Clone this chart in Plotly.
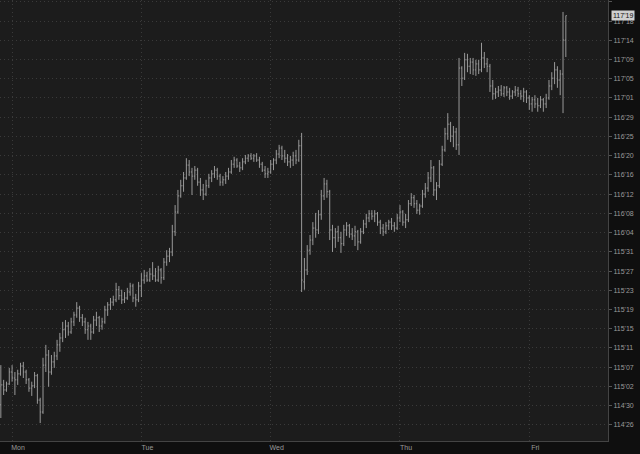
import plotly.graph_objects as go

# Prices are stored in 32nds above 114'00 (bond-futures quoting); price = 114 + v/32
opens32 = [30.4, 34.7, 33.6, 34.9, 37.5, 36.2, 35.8, 37.1, 38.8, 37.5,
           35.8, 34.0, 34.5, 36.7, 31.4, 28.8, 39.0, 41.2, 37.5, 39.7,
           41.0, 43.4, 44.9, 46.7, 47.5, 46.2, 48.4, 49.9, 51.4, 49.3,
           48.4, 46.7, 47.5, 46.2, 48.8, 49.3, 47.5, 48.4, 51.0, 52.1,
           52.7, 53.2, 55.4, 54.1, 53.2, 53.6, 54.9, 56.2, 53.6, 53.2,
           56.2, 57.5, 58.4, 57.5, 58.8, 58.4, 57.5, 59.7, 58.0, 61.4,
           62.7, 63.6, 68.0, 72.3, 75.8, 78.0, 79.7, 82.5, 81.0, 80.1,
           81.4, 78.8, 77.1, 76.2, 78.0, 79.7, 80.6, 81.4, 80.1, 78.8,
           79.3, 80.1, 81.0, 82.7, 83.6, 82.3, 81.9, 83.2, 84.0, 84.5,
           84.0, 84.5, 83.6, 82.7, 81.4, 80.6, 81.0, 82.7, 83.6, 84.9,
           86.2, 84.5, 84.0, 83.2, 83.6, 84.5, 83.6, 86.7, 57.1, 59.7,
           64.0, 66.2, 68.8, 68.4, 71.7, 75.8, 78.4, 76.7, 68.4, 66.7,
           68.0, 66.7, 65.4, 68.4, 69.3, 67.5, 67.1, 68.0, 65.8, 68.0,
           69.7, 71.0, 71.9, 71.4, 71.9, 70.1, 68.8, 68.0, 69.3, 70.1,
           69.3, 68.8, 71.0, 72.3, 70.1, 70.6, 74.1, 75.4, 74.1, 72.7,
           73.6, 76.2, 77.5, 79.7, 81.9, 77.1, 78.0, 82.7, 85.8, 89.3,
           91.4, 88.8, 89.7, 86.9, 103.6, 101.4, 105.4, 104.0, 104.9, 103.2,
           104.5, 103.2, 105.8, 104.5, 104.0, 99.7, 98.0, 98.4, 98.8, 98.0,
           99.3, 98.4, 97.5, 98.4, 98.8, 98.0, 97.5, 98.4, 97.1, 95.8,
           96.7, 95.8, 95.4, 96.7, 95.8, 97.1, 99.7, 101.4, 103.2, 101.0,
           102.3, 109.7]
highs32 = [39.0, 35.8, 35.4, 38.4, 39.0, 37.5, 38.0, 39.5, 39.7, 38.0,
           36.2, 35.4, 37.5, 37.1, 31.9, 40.6, 43.4, 42.3, 41.2, 41.9,
           44.5, 46.0, 48.4, 48.8, 48.4, 49.3, 50.6, 52.7, 51.9, 50.1,
           49.3, 48.4, 48.0, 49.7, 50.6, 49.7, 49.3, 51.9, 52.7, 53.6,
           54.1, 56.9, 56.2, 55.4, 54.9, 55.8, 56.9, 56.7, 54.5, 57.1,
           59.0, 59.7, 59.3, 60.1, 61.4, 60.1, 60.6, 60.1, 62.3, 64.0,
           64.5, 69.5, 73.8, 77.1, 79.3, 81.0, 84.0, 83.6, 81.9, 82.3,
           81.9, 79.7, 78.4, 79.3, 80.6, 81.4, 82.3, 81.9, 80.6, 80.1,
           81.0, 81.9, 83.6, 84.3, 84.0, 83.2, 84.0, 84.7, 84.9, 85.1,
           84.9, 85.1, 84.3, 83.2, 82.3, 81.9, 83.6, 84.0, 85.8, 86.9,
           86.7, 85.8, 84.9, 84.5, 85.4, 85.8, 88.0, 89.5, 62.3, 65.1,
           67.3, 70.1, 72.1, 72.7, 77.1, 79.7, 79.3, 77.1, 69.5, 68.8,
           69.3, 68.0, 69.5, 70.1, 69.7, 68.8, 69.3, 68.4, 68.8, 70.6,
           71.9, 72.7, 72.7, 72.7, 72.3, 70.6, 69.7, 70.1, 70.6, 71.0,
           70.1, 71.9, 73.8, 72.7, 71.9, 74.9, 76.4, 76.0, 74.9, 74.1,
           77.1, 78.6, 81.0, 83.6, 82.3, 78.8, 83.6, 86.7, 90.6, 93.8,
           91.9, 91.0, 90.6, 105.8, 104.0, 106.9, 106.7, 105.8, 105.8, 105.4,
           105.4, 109.1, 107.1, 105.8, 104.5, 101.0, 99.3, 99.7, 99.9, 99.7,
           99.7, 99.3, 98.8, 99.7, 99.5, 98.8, 99.3, 98.8, 97.7, 97.3,
           97.7, 97.1, 97.5, 97.1, 98.0, 101.0, 102.7, 104.9, 104.0, 103.2,
           115.8, 115.0]
lows32 = [27.5, 32.5, 33.2, 34.7, 35.4, 32.5, 34.7, 36.7, 36.2, 34.9,
          33.2, 32.3, 34.0, 30.6, 26.4, 28.4, 37.5, 34.3, 36.9, 38.4,
          40.1, 41.9, 44.0, 44.9, 45.4, 45.8, 47.5, 49.3, 48.4, 47.5,
          45.8, 44.5, 44.5, 45.8, 47.5, 46.2, 46.7, 48.0, 49.7, 51.0,
          51.9, 52.7, 53.2, 52.3, 52.5, 53.2, 54.1, 52.7, 51.7, 52.7,
          53.8, 56.7, 57.1, 57.1, 57.5, 57.1, 57.1, 56.7, 57.5, 60.6,
          61.4, 62.7, 67.1, 71.9, 75.4, 76.7, 79.3, 80.1, 76.0, 79.3,
          78.0, 75.8, 74.9, 75.8, 77.5, 78.8, 79.7, 79.3, 78.0, 78.0,
          78.4, 79.3, 80.6, 81.9, 81.9, 81.0, 81.4, 82.7, 83.2, 83.6,
          83.2, 83.2, 81.9, 81.0, 79.7, 79.7, 80.6, 81.4, 82.7, 84.0,
          83.6, 83.0, 82.3, 81.9, 82.3, 82.7, 83.2, 54.9, 55.4, 58.6,
          63.0, 65.1, 66.7, 67.5, 70.6, 74.9, 75.4, 66.2, 63.6, 64.5,
          65.8, 63.4, 64.9, 67.1, 66.7, 66.2, 64.9, 64.0, 65.4, 67.5,
          68.8, 70.1, 70.6, 70.1, 69.3, 67.5, 67.1, 67.5, 68.4, 68.4,
          68.0, 68.4, 70.1, 69.3, 68.8, 70.1, 73.6, 73.2, 71.9, 71.7,
          73.2, 75.4, 76.7, 78.8, 75.8, 74.9, 77.5, 82.3, 85.4, 88.0,
          87.5, 86.4, 85.8, 84.7, 99.7, 101.0, 102.7, 102.3, 102.1, 101.9,
          102.3, 102.7, 103.6, 102.7, 98.4, 96.7, 96.9, 97.3, 97.5, 97.3,
          97.5, 96.7, 96.9, 97.5, 97.3, 96.7, 96.2, 96.0, 94.5, 94.1,
          94.9, 94.1, 94.9, 94.1, 94.9, 96.7, 98.8, 100.1, 99.3, 97.7,
          93.8, 106.0]
closes32 = [34.7, 33.6, 34.9, 37.5, 36.2, 35.8, 37.1, 38.8, 37.5, 35.8,
            34.0, 34.5, 36.7, 31.4, 28.8, 39.0, 41.2, 37.5, 39.7, 41.0,
            43.4, 44.9, 46.7, 47.5, 46.2, 48.4, 49.9, 51.4, 49.3, 48.4,
            46.7, 47.5, 46.2, 48.8, 49.3, 47.5, 48.4, 51.0, 52.1, 52.7,
            53.2, 55.4, 54.1, 53.2, 53.6, 54.9, 56.2, 53.6, 53.2, 56.2,
            57.5, 58.4, 57.5, 58.8, 58.4, 57.5, 59.7, 58.0, 61.4, 62.7,
            63.6, 68.0, 72.3, 75.8, 78.0, 79.7, 82.5, 81.0, 80.1, 81.4,
            78.8, 77.1, 76.2, 78.0, 79.7, 80.6, 81.4, 80.1, 78.8, 79.3,
            80.1, 81.0, 82.7, 83.6, 82.3, 81.9, 83.2, 84.0, 84.5, 84.0,
            84.5, 83.6, 82.7, 81.4, 80.6, 81.0, 82.7, 83.6, 84.9, 86.2,
            84.5, 84.0, 83.2, 83.6, 84.5, 83.6, 86.7, 57.5, 59.7, 64.0,
            66.2, 68.8, 68.4, 71.7, 75.8, 78.4, 76.7, 68.4, 66.7, 68.0,
            66.7, 65.4, 68.4, 69.3, 67.5, 67.1, 68.0, 65.8, 68.0, 69.7,
            71.0, 71.9, 71.4, 71.9, 70.1, 68.8, 68.0, 69.3, 70.1, 69.3,
            68.8, 71.0, 72.3, 70.1, 70.6, 74.1, 75.4, 74.1, 72.7, 73.6,
            76.2, 77.5, 79.7, 81.9, 77.1, 78.0, 82.7, 85.8, 89.3, 91.4,
            88.8, 89.7, 86.9, 103.6, 101.4, 105.4, 104.0, 104.9, 103.2, 104.5,
            103.2, 105.8, 104.5, 104.0, 99.7, 98.0, 98.4, 98.8, 98.0, 99.3,
            98.4, 97.5, 98.4, 98.8, 98.0, 97.5, 98.4, 97.1, 95.8, 96.7,
            95.8, 95.4, 96.7, 95.8, 97.1, 99.7, 101.4, 103.2, 101.0, 102.3,
            109.7, 115.0]

day_labels = ["Mon", "Tue", "Wed", "Thu", "Fri"]
day_start_bar = [4, 50, 96, 142, 188]

y_tick_labels = ["114'26", "114'30", "115'02", "115'07", "115'11", "115'15",
                 "115'19", "115'23", "115'27", "115'31", "116'04", "116'08",
                 "116'12", "116'16", "116'20", "116'25", "116'29", "117'01",
                 "117'05", "117'09", "117'14", "117'18", "117'22"]
y_tick_32nds = [26.0, 30.18, 34.36, 38.55, 42.73, 46.91, 51.09, 55.27,
                59.45, 63.64, 67.82, 72.0, 76.18, 80.36, 84.55, 88.73,
                92.91, 97.09, 101.27, 105.45, 109.64, 113.82, 118.0]
last_label = "117'19"


def to_price(v):
    return [114 + x / 32 for x in v]


n = len(closes32)
xs = list(range(n))

fig = go.Figure()
fig.add_trace(go.Ohlc(
    x=xs,
    open=to_price(opens32), high=to_price(highs32),
    low=to_price(lows32), close=to_price(closes32),
    increasing=dict(line=dict(color="#999999", width=1)),
    decreasing=dict(line=dict(color="#999999", width=1)),
    tickwidth=0.35,
    hoverinfo="skip",
    showlegend=False,
))

grid = "#3a3a3a"
fig.update_layout(
    width=640, height=454,
    margin=dict(l=0, r=32, t=0, b=13),
    paper_bgcolor="#0f0f0f",
    plot_bgcolor="#1c1c1c",
    font=dict(family="Liberation Sans, Arial, sans-serif", size=7, color="#9a9a9a"),
    xaxis=dict(
        range=[-0.3, 216.0],
        tickvals=day_start_bar, ticktext=day_labels,
        showgrid=True, gridcolor=grid, griddash="1px,3px", gridwidth=1,
        showline=True, linecolor="#444444", mirror=False,
        ticks="", ticklabelshift=6, ticklabelstandoff=0,
        tickfont=dict(size=7, color="#9a9a9a"),
        zeroline=False,
        rangeslider=dict(visible=False),
        fixedrange=True,
    ),
    yaxis=dict(
        side="right",
        range=[114 + 22.5 / 32, 114 + 118.4 / 32],
        tickvals=to_price(y_tick_32nds), ticktext=y_tick_labels,
        showgrid=True, gridcolor=grid, griddash="1px,3px", gridwidth=1,
        showline=True, linecolor="#444444",
        ticks="outside", ticklen=3, tickcolor="#555555",
        tickfont=dict(size=7, color="#9a9a9a"),
        zeroline=False,
        fixedrange=True,
    ),
    annotations=[dict(
        xref="paper", x=1.0, xanchor="left", xshift=3,
        yref="y", y=114 + closes32[-1] / 32, yanchor="middle",
        text=last_label, showarrow=False,
        font=dict(size=7, color="#111111"),
        bgcolor="#cfcfcf", borderpad=1,
    )],
)

fig.write_html(
    "out.html",
    config={"displayModeBar": False, "staticPlot": True},
    post_script="document.body.style.margin='0';document.body.style.background='#0f0f0f';",
)
